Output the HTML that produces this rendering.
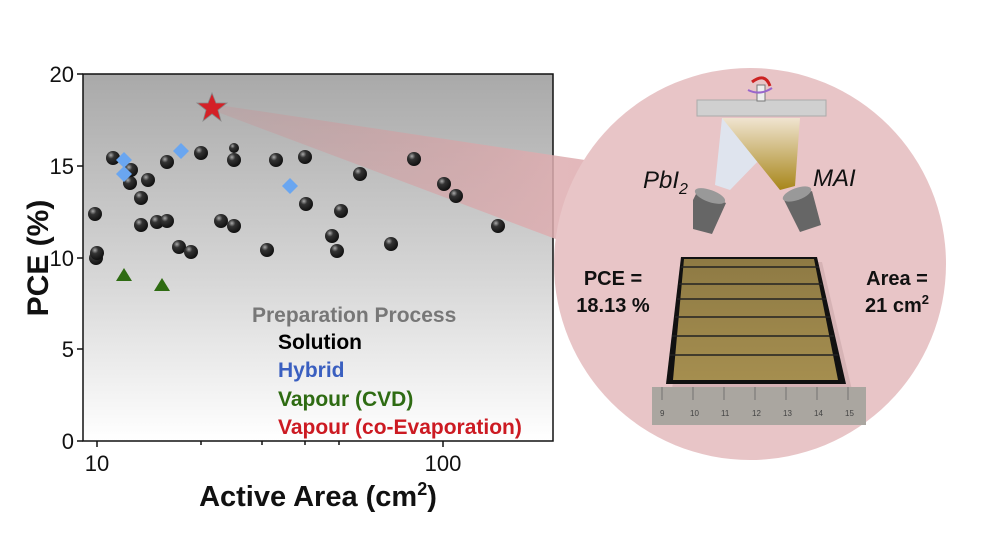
<!DOCTYPE html>
<html><head><meta charset="utf-8"><style>
html,body{margin:0;padding:0;background:#fff;}
svg{display:block;font-family:"Liberation Sans",Arial,sans-serif;}
</style></head><body>
<svg width="995" height="560" viewBox="0 0 995 560" xmlns="http://www.w3.org/2000/svg">
<defs>
<linearGradient id="bg" x1="0" y1="0" x2="0" y2="1">
<stop offset="0" stop-color="#a9a9a9"/><stop offset="0.55" stop-color="#d6d6d6"/><stop offset="1" stop-color="#ffffff"/>
</linearGradient>
<radialGradient id="ball" cx="0.35" cy="0.3" r="0.7">
<stop offset="0" stop-color="#aaa"/><stop offset="0.35" stop-color="#333"/><stop offset="1" stop-color="#111"/>
</radialGradient>
<linearGradient id="wedge" x1="0" y1="0" x2="1" y2="0">
<stop offset="0" stop-color="#c98a8e" stop-opacity="0.25"/><stop offset="1" stop-color="#e0b0b3" stop-opacity="0.9"/>
</linearGradient>
<linearGradient id="cell" x1="0" y1="0" x2="0" y2="1">
<stop offset="0" stop-color="#8e7a44"/><stop offset="1" stop-color="#a58e4f"/>
</linearGradient>
<linearGradient id="beamR" x1="0" y1="0" x2="0" y2="1">
<stop offset="0" stop-color="#f0e4d0"/><stop offset="1" stop-color="#a8861a"/>
</linearGradient>
</defs>
<rect x="83" y="74" width="470" height="367" fill="url(#bg)"/>
<rect x="83" y="74" width="470" height="367" fill="none" stroke="#111" stroke-width="1.5"/>
<polygon points="212,104 585,160 585,250 212,110" fill="url(#wedge)"/>
<circle cx="750" cy="264" r="196" fill="#e8c5c7"/>
<g stroke="#111" stroke-width="1.5">
<line x1="77" y1="74" x2="83" y2="74"/><line x1="77" y1="166" x2="83" y2="166"/><line x1="77" y1="258" x2="83" y2="258"/><line x1="77" y1="349" x2="83" y2="349"/><line x1="77" y1="441" x2="83" y2="441"/>
<line x1="97" y1="441" x2="97" y2="447"/><line x1="443" y1="441" x2="443" y2="447"/>
<line x1="201" y1="441" x2="201" y2="445"/><line x1="262" y1="441" x2="262" y2="445"/><line x1="305" y1="441" x2="305" y2="445"/><line x1="339" y1="441" x2="339" y2="445"/>
</g>
<g font-size="22" fill="#111" text-anchor="end">
<text x="74" y="82">20</text><text x="74" y="174">15</text><text x="74" y="266">10</text><text x="74" y="357">5</text><text x="74" y="449">0</text>
</g>
<text x="97" y="471" font-size="22" text-anchor="middle" fill="#111">10</text>
<text x="443" y="471" font-size="22" text-anchor="middle" fill="#111">100</text>
<text x="318" y="506" font-size="29" font-weight="bold" text-anchor="middle" fill="#111">Active Area (cm<tspan font-size="18" dy="-11">2</tspan><tspan dy="11">)</tspan></text>
<text transform="translate(48,258) rotate(-90)" font-size="30" font-weight="bold" text-anchor="middle" fill="#111">PCE (%)</text>
<g fill="url(#ball)">
<circle cx="96" cy="258" r="7"/><circle cx="97" cy="253" r="7"/><circle cx="95" cy="214" r="7"/><circle cx="113" cy="158" r="7"/>
<circle cx="130" cy="183" r="7"/><circle cx="131" cy="170" r="7"/><circle cx="141" cy="198" r="7"/><circle cx="148" cy="180" r="7"/>
<circle cx="141" cy="225" r="7"/><circle cx="157" cy="222" r="7"/><circle cx="167" cy="221" r="7"/><circle cx="167" cy="162" r="7"/>
<circle cx="179" cy="247" r="7"/><circle cx="191" cy="252" r="7"/><circle cx="201" cy="153" r="7"/><circle cx="221" cy="221" r="7"/>
<circle cx="234" cy="226" r="7"/><circle cx="234" cy="148" r="5"/><circle cx="234" cy="160" r="7"/><circle cx="276" cy="160" r="7"/>
<circle cx="267" cy="250" r="7"/><circle cx="305" cy="157" r="7"/><circle cx="306" cy="204" r="7"/><circle cx="332" cy="236" r="7"/>
<circle cx="341" cy="211" r="7"/><circle cx="337" cy="251" r="7"/><circle cx="360" cy="174" r="7"/><circle cx="391" cy="244" r="7"/>
<circle cx="414" cy="159" r="7"/><circle cx="444" cy="184" r="7"/><circle cx="456" cy="196" r="7"/><circle cx="498" cy="226" r="7"/>
</g>
<g fill="#6aa6f0">
<polygon points="124,152 132,160 124,168 116,160"/><polygon points="124,166 132,174 124,182 116,174"/>
<polygon points="181,143 189,151 181,159 173,151"/><polygon points="290,178 298,186 290,194 282,186"/>
</g>
<g fill="#2e6b12">
<polygon points="124,268 132,281 116,281"/><polygon points="162,278 170,291 154,291"/>
</g>
<polygon points="212,93 216,103 227,103 218,110 221,121 212,114 203,121 206,110 197,103 208,103" fill="#d42027" stroke="#888" stroke-width="0.8"/>
<g font-size="21" font-weight="bold">
<text x="252" y="322" fill="#777">Preparation Process</text>
<text x="278" y="349" fill="#000">Solution</text>
<text x="278" y="377" fill="#3a5fc0">Hybrid</text>
<text x="278" y="406" fill="#2e6b12">Vapour (CVD)</text>
<text x="278" y="434" fill="#cc1a22">Vapour (co-Evaporation)</text>
</g>
<rect x="697" y="100" width="129" height="16" fill="#d0d0d0" stroke="#aaa"/>
<rect x="757" y="85" width="8" height="16" fill="#eee" stroke="#777"/>
<path d="M752,82 Q765,72 770,86" stroke="#c22" stroke-width="3" fill="none"/>
<path d="M748,90 Q760,96 772,88" stroke="#96c" stroke-width="2" fill="none"/>
<polygon points="722,118 800,118 730,190 715,185" fill="#dfe4ee"/>
<polygon points="722,118 800,118 795,186 780,190" fill="url(#beamR)"/>
<text x="643" y="188" font-size="24" font-style="italic" fill="#111">PbI<tspan font-size="16" dy="6">2</tspan></text>
<text x="813" y="186" font-size="24" font-style="italic" fill="#111">MAI</text>
<polygon points="697,192 726,203 712,234 693,229 693,200" fill="#666"/>
<ellipse cx="710" cy="196" rx="16" ry="6" fill="#999" transform="rotate(20 710 196)"/>
<polygon points="784,200 812,191 821,225 800,232" fill="#666"/>
<ellipse cx="797" cy="194" rx="15" ry="6" fill="#999" transform="rotate(-20 797 194)"/>
<polygon points="686,262 822,262 852,390 672,390" fill="#c9a6a8" opacity="0.6"/>
<polygon points="681,257 817,257 846,384 666,384" fill="#111"/>
<polygon points="684,259 814,259 838,380 673,380" fill="url(#cell)"/>
<g stroke="#222" stroke-width="1.5">
<line x1="681" y1="267" x2="819" y2="267"/><line x1="679" y1="284" x2="822" y2="284"/><line x1="677" y1="299" x2="826" y2="299"/>
<line x1="675" y1="317" x2="830" y2="317"/><line x1="672" y1="336" x2="834" y2="336"/><line x1="670" y1="355" x2="838" y2="355"/>
</g>
<polygon points="652,387 866,387 866,425 652,425" fill="#aaa6a0"/>
<g stroke="#666" stroke-width="0.8">
<line x1="662" y1="387" x2="662" y2="400"/><line x1="693" y1="387" x2="693" y2="400"/><line x1="724" y1="387" x2="724" y2="400"/><line x1="755" y1="387" x2="755" y2="400"/><line x1="786" y1="387" x2="786" y2="400"/><line x1="817" y1="387" x2="817" y2="400"/><line x1="848" y1="387" x2="848" y2="400"/>
</g>
<g font-size="8" fill="#444">
<text x="660" y="416">9</text><text x="690" y="416">10</text><text x="721" y="416">11</text><text x="752" y="416">12</text><text x="783" y="416">13</text><text x="814" y="416">14</text><text x="845" y="416">15</text>
</g>
<g font-size="20" font-weight="bold" fill="#111" text-anchor="middle">
<text x="613" y="285">PCE =</text><text x="613" y="312">18.13 %</text>
<text x="897" y="285">Area =</text><text x="897" y="312">21 cm<tspan font-size="13" dy="-8">2</tspan></text>
</g>
</svg>
</body></html>
